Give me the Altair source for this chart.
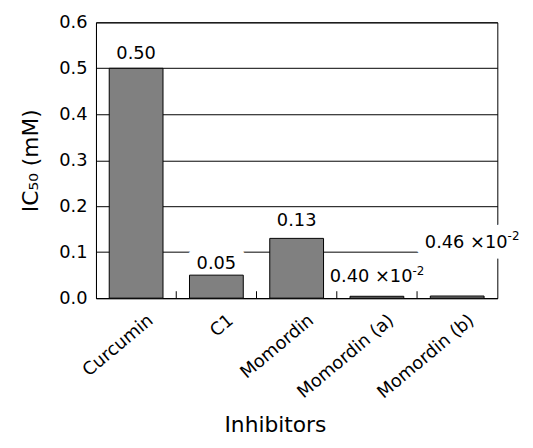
import altair as alt
import pandas as pd

inhibitors = ["Curcumin", "C1", "Momordin", "Momordin (a)", "Momordin (b)"]
ic50 = [0.50, 0.05, 0.13, 0.0040, 0.0046]
value_labels = ["0.50", "0.05", "0.13", "0.40 \u00d710", "0.46 \u00d710"]
exponents = ["", "", "", "-2", "-2"]
y_ticks = [0.0, 0.1, 0.2, 0.3, 0.4, 0.5, 0.6]

df = pd.DataFrame({"inhibitor": inhibitors, "ic50": ic50,
                   "label": value_labels, "exp": exponents})

FONT = "DejaVu Sans"

x_enc = alt.X(
    "inhibitor:N", sort=inhibitors,
    scale=alt.Scale(paddingInner=0.33, paddingOuter=0.165),
    axis=alt.Axis(
        title="Inhibitors", titleFont=FONT, titleFontSize=22, titleFontWeight="normal",
        titleColor="black", titleX=181, titleY=135, titleAlign="center",
        titleBaseline="alphabetic", titleAnchor="start",
        labelFont=FONT, labelFontSize=18, labelColor="black",
        labelAngle=320, labelAlign="right", labelBaseline="middle",
        labelOffset=15, labelPadding=20,
        ticks=False, domainColor="black", domainWidth=1, grid=False,
    ),
)
x_plain = alt.X("inhibitor:N", sort=inhibitors)
y_scale = alt.Scale(domain=[0, 0.6], nice=False)
y_enc = alt.Y(
    "ic50:Q", scale=y_scale,
    axis=alt.Axis(
        title="IC\u2085\u2080 (mM)", titleFont=FONT, titleFontSize=22, titleFontWeight="normal",
        titleColor="black", titlePadding=17,
        labelFont=FONT, labelFontSize=18, labelColor="black", labelPadding=9,
        values=y_ticks, format=".1f", ticks=False,
        domainColor="black", domainWidth=1,
        grid=True, gridColor="black", gridWidth=1, gridOpacity=1,
    ),
)

base = alt.Chart(df)

bars = base.mark_bar(color="#808080", stroke="black", strokeWidth=1).encode(
    x=x_enc, y=y_enc)

label_dy = {"Curcumin": -9, "C1": -6, "Momordin": -13}
plain_layers = []
plain_masks = []
for name, dy in label_dy.items():
    row = base.transform_filter(alt.datum.inhibitor == name)
    plain_layers.append(row.mark_text(font=FONT, fontSize=18, color="black",
                                      baseline="alphabetic", dy=dy).encode(
        x=x_plain, y="ic50:Q", text="label:N"))
    if name == "C1":
        plain_masks.append(row.mark_text(
            font=FONT, fontSize=18, stroke="white", strokeWidth=22, strokeJoin="round",
            color="white", baseline="alphabetic", dy=dy).encode(
            x=x_plain, y="ic50:Q", text="label:N"))

a_row = base.transform_filter(alt.datum.inhibitor == "Momordin (a)")
b_row = base.transform_filter(alt.datum.inhibitor == "Momordin (b)")

a_main = a_row.mark_text(font=FONT, fontSize=18, color="black", align="right",
                         baseline="alphabetic", dx=36, dy=-14).encode(
    x=x_plain, y="ic50:Q", text="label:N")
a_sup = a_row.mark_text(font=FONT, fontSize=12, color="black", align="left",
                        baseline="alphabetic", dx=36, dy=-22).encode(
    x=x_plain, y="ic50:Q", text="exp:N")

b_mask = b_row.mark_text(font=FONT, fontSize=18, stroke="white", strokeWidth=22,
                         strokeJoin="round", color="white", align="right",
                         baseline="alphabetic", dx=51, dy=-49).encode(
    x=x_plain, y="ic50:Q", text="label:N")
b_main = b_row.mark_text(font=FONT, fontSize=18, color="black", align="right",
                         baseline="alphabetic", dx=51, dy=-49).encode(
    x=x_plain, y="ic50:Q", text="label:N")
b_sup = b_row.mark_text(font=FONT, fontSize=12, color="black", align="left",
                        baseline="alphabetic", dx=51, dy=-57).encode(
    x=x_plain, y="ic50:Q", text="exp:N")

ticks = base.transform_filter(alt.datum.inhibitor != "Curcumin").mark_rule(
    color="black", strokeWidth=1, xOffset=-13.4).encode(
    x=alt.X("inhibitor:N", sort=inhibitors, bandPosition=0),
    y=alt.datum(0), y2=alt.datum(0.015))

chart = alt.layer(
    *plain_masks, b_mask, bars, ticks, *plain_layers, a_main, a_sup, b_main, b_sup
).properties(
    width=406, height=279,
    autosize=alt.AutoSizeParams(type="none"),
    padding={"left": 89, "top": 12, "right": 28, "bottom": 140},
    background="white",
).configure_view(stroke="black", strokeWidth=1)

chart.save("out.html", embed_options={"renderer": "svg", "actions": False})
